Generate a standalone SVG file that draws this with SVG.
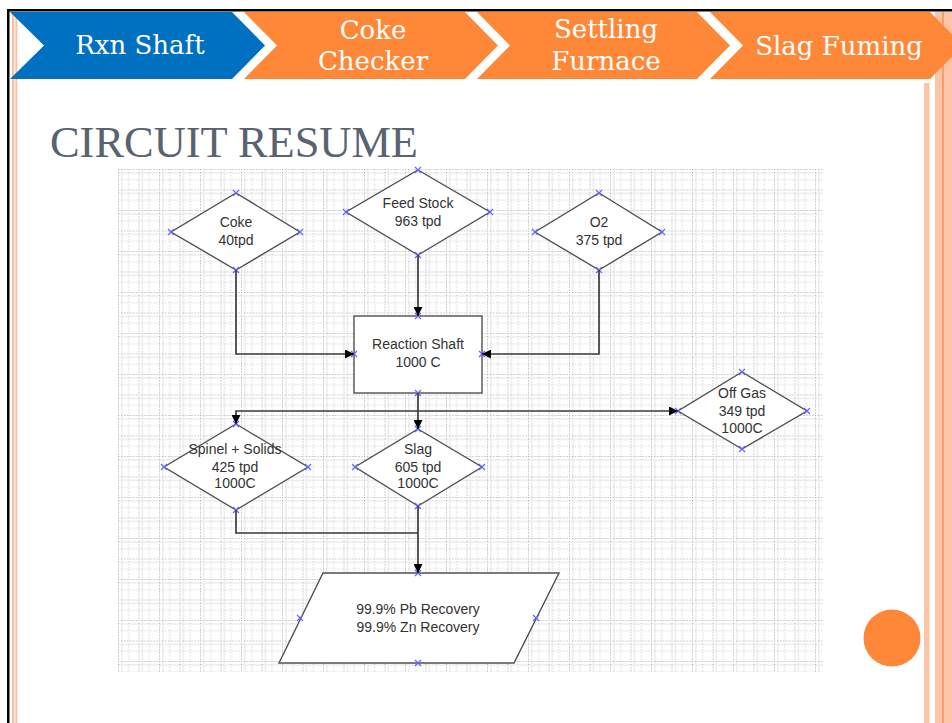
<svg xmlns="http://www.w3.org/2000/svg" width="952" height="723" viewBox="0 0 952 723">
<style>
.hdr{font-family:"DejaVu Serif",serif;font-size:26px;fill:#ffffff;text-anchor:middle}
.lbl{font-family:"Liberation Sans",Arial,sans-serif;font-size:14px;fill:#333333;text-anchor:middle}
.shape{fill:#ffffff;stroke:#505050;stroke-width:1.4}
.conn{fill:none;stroke:#3a3a3a;stroke-width:1.7}
.mk{stroke:#6464ff;stroke-width:1.2;fill:none}
</style>
<defs>
<pattern id="grid" x="118" y="169" width="20.5" height="20.5" patternUnits="userSpaceOnUse">
<rect width="20.5" height="20.5" fill="#ffffff"/>
<line x1="4" y1="0" x2="4" y2="20.5" stroke="#ededed" stroke-width="1.5"/>
<line x1="0" y1="4" x2="20.5" y2="4" stroke="#ededed" stroke-width="1.5"/>
<line x1="0.5" y1="0" x2="0.5" y2="20.5" stroke="#b4b4b4" stroke-width="1" stroke-dasharray="1.2 1.8"/>
<line x1="0" y1="0.5" x2="20.5" y2="0.5" stroke="#b4b4b4" stroke-width="1" stroke-dasharray="1.2 1.8"/>
<line x1="10.75" y1="0" x2="10.75" y2="20.5" stroke="#c8c8c8" stroke-width="1" stroke-dasharray="1 2"/>
<line x1="0" y1="10.75" x2="20.5" y2="10.75" stroke="#c8c8c8" stroke-width="1" stroke-dasharray="1 2"/>
</pattern>
<marker id="arr" markerWidth="9" markerHeight="9" refX="9" refY="4.5" orient="auto" markerUnits="userSpaceOnUse">
<path d="M0,0 L9,4.5 L0,9 Z" fill="#000000"/>
</marker>
<path id="xm" class="mk" d="M-3,-3 L3,3 M-3,3 L3,-3"/>
</defs>

<rect width="952" height="723" fill="#ffffff"/>

<!-- frame and stripes -->
<g id="frame">
<rect x="7" y="9" width="945" height="2.5" fill="#000000"/>
<rect x="7" y="9" width="2.5" height="714" fill="#000000"/>
<rect x="12" y="12" width="5.3" height="711" fill="#fbbfa2"/>
<rect x="14" y="12" width="1.6" height="711" fill="#fde3d6"/>
<rect x="924" y="83" width="5.5" height="640" fill="#fcc4a9"/>
<rect x="935" y="12" width="17" height="711" fill="#fcc4a9"/>
<rect x="942" y="12" width="2" height="711" fill="#fb9c6c"/>
</g>

<!-- header chevrons -->
<g id="chevron-rxn">
<polygon points="10,12 232,12 265,45.5 232,79 10,79 44,45.5" fill="#0070c0"/>
<text class="hdr" x="140" y="54">Rxn Shaft</text>
</g>
<g id="chevron-coke">
<polygon points="244,12 465,12 498,45.5 465,79 244,79 277,45.5" fill="#fe8838"/>
<text class="hdr" x="373" y="39">Coke</text>
<text class="hdr" x="373" y="70">Checker</text>
</g>
<g id="chevron-settling">
<polygon points="477,12 697,12 730,45.5 697,79 477,79 510,45.5" fill="#fe8838"/>
<text class="hdr" x="606" y="38">Settling</text>
<text class="hdr" x="606" y="70">Furnace</text>
</g>
<g id="chevron-slag">
<polygon points="710,12 930,12 963,45.5 930,79 710,79 743,45.5" fill="#fe8838"/>
<text class="hdr" x="839" y="55">Slag Fuming</text>
</g>

<text x="50" y="157" font-family="'Liberation Serif','Times New Roman',serif" font-size="44" fill="#5a6272" textLength="368" lengthAdjust="spacingAndGlyphs">CIRCUIT RESUME</text>

<!-- grid -->
<rect x="118" y="169" width="705" height="503" fill="url(#grid)"/>

<!-- nodes -->
<g id="coke">
<polygon class="shape" points="236,193 300,232 236,270 171,232"/>
<text class="lbl" x="236" y="227">Coke</text>
<text class="lbl" x="236" y="245">40tpd</text>
<use href="#xm" x="236" y="193"/><use href="#xm" x="171" y="232"/><use href="#xm" x="300" y="232"/><use href="#xm" x="236" y="270"/>
</g>
<g id="feed-stock">
<polygon class="shape" points="418,170 490,212 418,255 346,212"/>
<text class="lbl" x="418" y="208">Feed Stock</text>
<text class="lbl" x="418" y="226">963 tpd</text>
<use href="#xm" x="418" y="170"/><use href="#xm" x="346" y="212"/><use href="#xm" x="490" y="212"/><use href="#xm" x="418" y="255"/>
</g>
<g id="o2">
<polygon class="shape" points="599,193 662,232 599,270 535,232"/>
<text class="lbl" x="599" y="227">O2</text>
<text class="lbl" x="599" y="245">375 tpd</text>
<use href="#xm" x="599" y="193"/><use href="#xm" x="535" y="232"/><use href="#xm" x="662" y="232"/><use href="#xm" x="599" y="270"/>
</g>
<g id="reaction-shaft">
<rect class="shape" x="354" y="316" width="128" height="77"/>
<text class="lbl" x="418" y="349">Reaction Shaft</text>
<text class="lbl" x="418" y="367">1000 C</text>
<use href="#xm" x="418" y="316"/><use href="#xm" x="354" y="354"/><use href="#xm" x="482" y="354"/><use href="#xm" x="418" y="393"/>
</g>
<g id="off-gas">
<polygon class="shape" points="742,372 807,411 742,449 678,411"/>
<text class="lbl" x="742" y="398">Off Gas</text>
<text class="lbl" x="742" y="416">349 tpd</text>
<text class="lbl" x="742" y="433">1000C</text>
<use href="#xm" x="742" y="372"/><use href="#xm" x="678" y="411"/><use href="#xm" x="807" y="411"/><use href="#xm" x="742" y="449"/>
</g>
<g id="spinel-solids">
<polygon class="shape" points="236,424 308,467 236,510 164,467"/>
<text class="lbl" x="235" y="454">Spinel + Solids</text>
<text class="lbl" x="235" y="472">425 tpd</text>
<text class="lbl" x="235" y="488">1000C</text>
<use href="#xm" x="236" y="424"/><use href="#xm" x="164" y="467"/><use href="#xm" x="308" y="467"/><use href="#xm" x="236" y="510"/>
</g>
<g id="slag">
<polygon class="shape" points="418,429 482,467 418,506 355,467"/>
<text class="lbl" x="418" y="454">Slag</text>
<text class="lbl" x="418" y="472">605 tpd</text>
<text class="lbl" x="418" y="488">1000C</text>
<use href="#xm" x="418" y="429"/><use href="#xm" x="355" y="467"/><use href="#xm" x="482" y="467"/><use href="#xm" x="418" y="506"/>
</g>
<g id="recovery">
<polygon class="shape" points="323,573 559,573 514,663 279,663"/>
<text class="lbl" x="418" y="614">99.9% Pb Recovery</text>
<text class="lbl" x="418" y="632">99.9% Zn Recovery</text>
<use href="#xm" x="418" y="573"/><use href="#xm" x="300" y="618"/><use href="#xm" x="536" y="618"/><use href="#xm" x="418" y="663"/>
</g>

<!-- connectors -->
<g id="connectors">
<path class="conn" d="M236,270 V354 H354" marker-end="url(#arr)"/>
<path class="conn" d="M418,255 V316" marker-end="url(#arr)"/>
<path class="conn" d="M599,270 V354 H482" marker-end="url(#arr)"/>
<path class="conn" d="M418,393 V429" marker-end="url(#arr)"/>
<path class="conn" d="M418,411 H236 V424" marker-end="url(#arr)"/>
<path class="conn" d="M418,411 H678" marker-end="url(#arr)"/>
<path class="conn" d="M236,510 V533 H418"/>
<path class="conn" d="M418,506 V573" marker-end="url(#arr)"/>
</g>

<circle id="dot" cx="892" cy="638" r="28.5" fill="#fe8838"/>
</svg>
